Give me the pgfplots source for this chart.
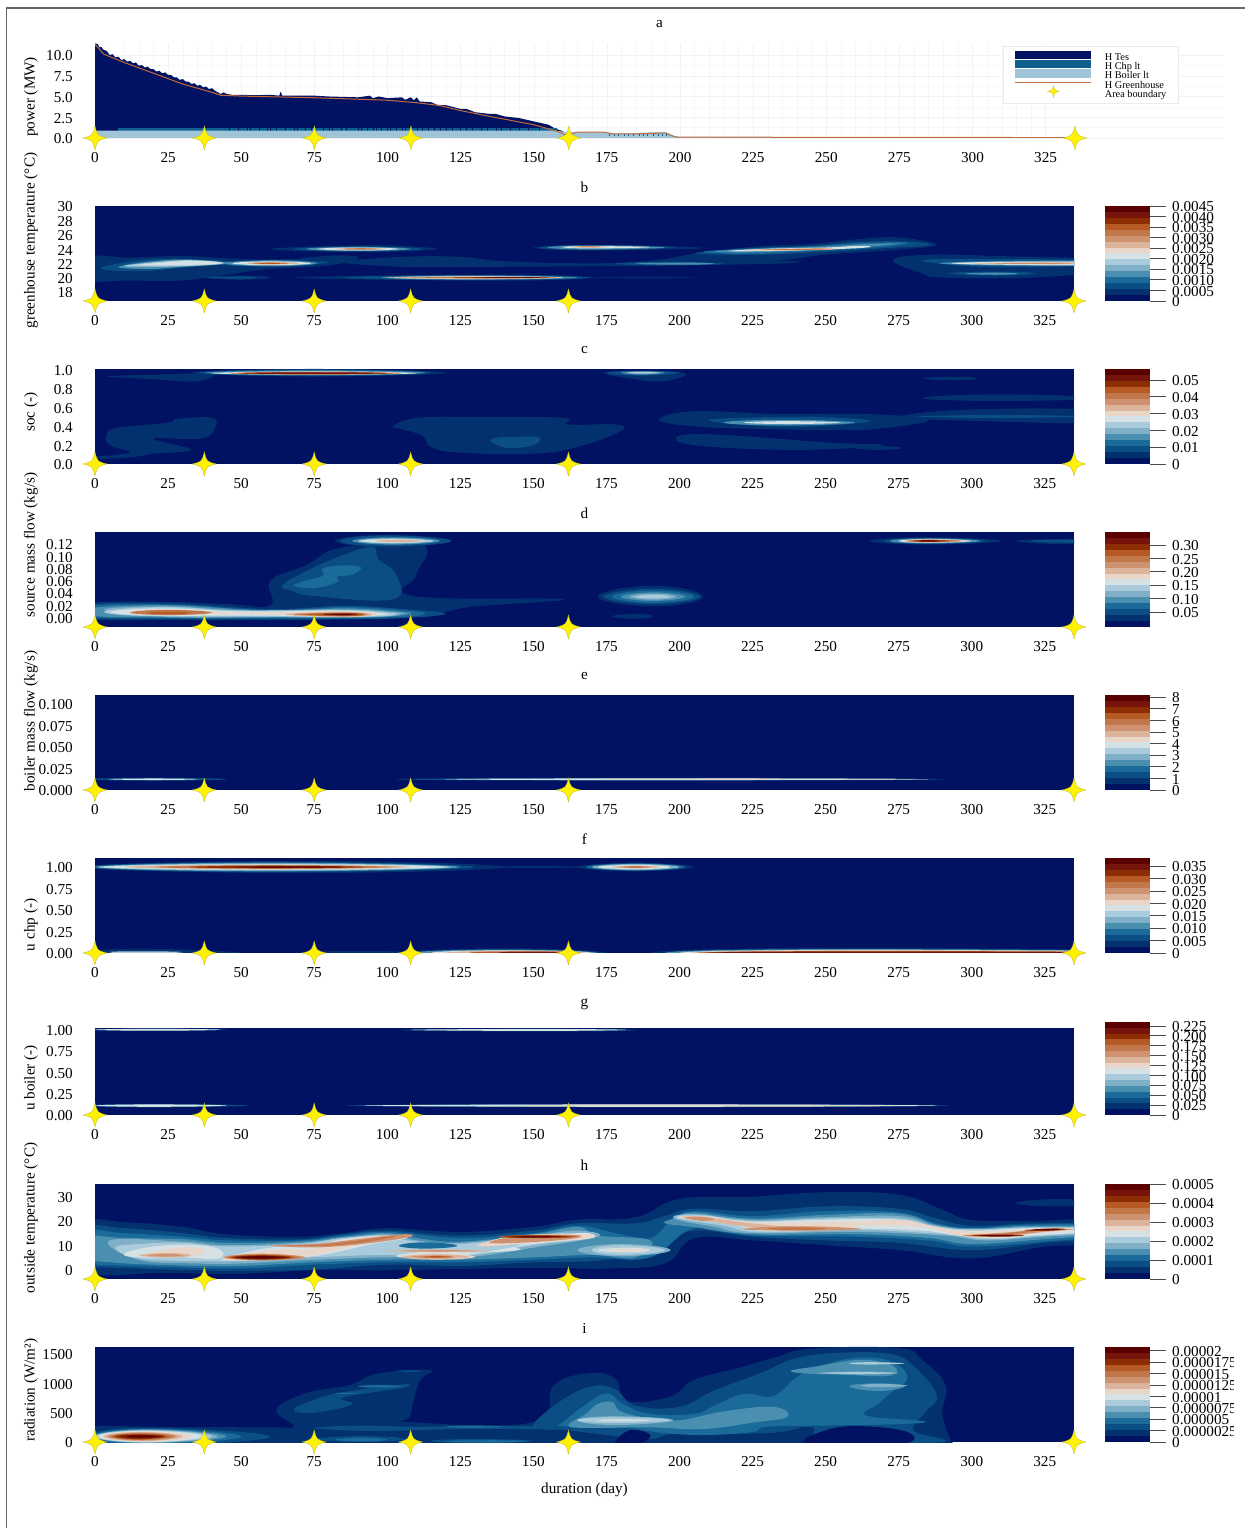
\documentclass[border=0pt]{standalone}
\usepackage{fontspec}
\setmainfont{Liberation Serif}
\usepackage{pgfplots}
\pgfplotsset{compat=1.18}
\definecolor{L1}{HTML}{001261}
\definecolor{L2}{HTML}{03306F}
\definecolor{L3}{HTML}{0B4E86}
\definecolor{L4}{HTML}{1A6A9A}
\definecolor{L5}{HTML}{4A8EB0}
\definecolor{L6}{HTML}{7FB0C8}
\definecolor{L7}{HTML}{A9CBDB}
\definecolor{L8}{HTML}{D5E1E4}
\definecolor{L9}{HTML}{EAD6C9}
\definecolor{L10}{HTML}{DCB49B}
\definecolor{L11}{HTML}{CF9271}
\definecolor{L12}{HTML}{C2774B}
\definecolor{L13}{HTML}{B55A25}
\definecolor{L14}{HTML}{8C2D04}
\definecolor{L15}{HTML}{74140A}
\definecolor{L16}{HTML}{5B0000}
\definecolor{gh}{HTML}{C46A3C}
\definecolor{chp}{HTML}{10608F}
\definecolor{boil}{HTML}{A0C4D8}
\newcommand\blob[2]{\addplot[draw=none,fill=L#1,smooth cycle,tension=0.7,forget plot] coordinates {#2};}
\newcommand\lens[7]{\addplot[draw=none,fill=L#1,smooth cycle,tension=0.85,forget plot] coordinates {(#2,#5)(#3,#6)(#4,#5)(#3,#7)};}
\newcommand\band[2]{\addplot[fill=L#1,draw=none,forget plot] coordinates {(0,#2)(1,#2)(1,#1)(0,#1)} --cycle;}
\newcommand\allbands{\band{1}{0}\band{2}{1}\band{3}{2}\band{4}{3}\band{5}{4}\band{6}{5}\band{7}{6}\band{8}{7}\band{9}{8}\band{10}{9}\band{11}{10}\band{12}{11}\band{13}{12}\band{14}{13}\band{15}{14}\band{16}{15}}
\pgfdeclareplotmark{fourstar}{%
  \pgfpathmoveto{\pgfpoint{0pt}{\pgfplotmarksize}}%
  \pgfpathcurveto{\pgfpoint{0.2\pgfplotmarksize}{0.2\pgfplotmarksize}}{\pgfpoint{0.2\pgfplotmarksize}{0.2\pgfplotmarksize}}{\pgfpoint{\pgfplotmarksize}{0pt}}%
  \pgfpathcurveto{\pgfpoint{0.2\pgfplotmarksize}{-0.2\pgfplotmarksize}}{\pgfpoint{0.2\pgfplotmarksize}{-0.2\pgfplotmarksize}}{\pgfpoint{0pt}{-\pgfplotmarksize}}%
  \pgfpathcurveto{\pgfpoint{-0.2\pgfplotmarksize}{-0.2\pgfplotmarksize}}{\pgfpoint{-0.2\pgfplotmarksize}{-0.2\pgfplotmarksize}}{\pgfpoint{-\pgfplotmarksize}{0pt}}%
  \pgfpathcurveto{\pgfpoint{-0.2\pgfplotmarksize}{0.2\pgfplotmarksize}}{\pgfpoint{-0.2\pgfplotmarksize}{0.2\pgfplotmarksize}}{\pgfpoint{0pt}{\pgfplotmarksize}}%
  \pgfpathclose\pgfusepathqfillstroke}
\newcommand\stars[1]{\addplot[only marks,mark=fourstar,mark size=12pt,mark options={fill=yellow,draw=yellow!70!black,line width=.3pt},forget plot] coordinates {(0,#1)(37.4,#1)(75,#1)(108,#1)(162,#1)(335,#1)};}
\newcommand\fs{\fontsize{15.2}{15.2}\selectfont}
\pgfplotsset{
 base/.style={scale only axis,anchor=south west,width=979pt,height=95pt,xmin=0,xmax=335,
  xtick={0,25,...,325},xticklabels={0,25,50,75,100,125,150,175,200,225,250,275,300,325},
  tick style={draw=none},major tick length=0pt,clip mode=individual,
  axis line style={draw=none},
  tick label style={font=\fs,inner sep=0pt},
  xticklabel style={anchor=center,yshift=-20pt},
  yticklabel style={anchor=east,xshift=-22pt,yshift=-1pt},
  title style={font=\fs,at={(0.5,1)},anchor=center,yshift=13pt},
  every axis y label/.style={font=\fs,rotate=90,anchor=center},
  every axis x label/.style={font=\fs,anchor=center,at={(axis description cs:0.5,-0.505)}}},
 hm/.style={base,axis background/.style={fill=L1}},
 cb/.style={scale only axis,anchor=south west,width=45.5pt,height=95pt,xmin=0,xmax=1,ymin=0,ymax=16,
  xtick=\empty,axis line style={draw=none},ytick pos=right,tick align=outside,
  major tick length=16pt,tick style={draw=black!70,line width=.8pt},
  tick label style={font=\fs,inner sep=0pt},
  yticklabel style={anchor=west,xshift=6pt,yshift=-.7pt}}
}
\begin{document}
\begin{tikzpicture}
\useasboundingbox (0pt,0pt) rectangle (1245pt,1528pt);
\draw[black!60,line width=1.2pt] (6.5pt,0pt) -- (6.5pt,1520pt) -- (1245pt,1520pt);
%%%% a
\begin{axis}[base,at={(95pt,1390pt)},width=1129pt,xmin=0,xmax=386,ymin=0,ymax=11.45,
 ytick={0,2.5,5,7.5,10},yticklabels={0.0,2.5,5.0,7.5,10.0},
 title={a},ylabel={power (MW)},ylabel style={at={(axis description cs:-0.0567,0.432)}},
 grid=both,minor x tick num=4,minor y tick num=1,
 major grid style={draw=black!5,line width=.4pt},minor grid style={draw=black!3,line width=.4pt},
 legend style={at={(axis description cs:0.804,0.968)},anchor=north west,draw=black!8,line width=.6pt,
   font=\fontsize{10.3}{10.3}\selectfont,inner xsep=12pt,inner ysep=4pt,row sep=-3.1pt,
   nodes={inner sep=0pt,text height=7.5pt,text depth=2pt}},
 legend cell align=left]
\addlegendimage{legend image code/.code={\path[draw=none] (0pt,-2pt) rectangle (76pt,7.5pt);\fill[L1,draw=none] (0pt,-1.5pt) rectangle (76pt,7pt);}}
\addlegendentry{\hspace{13pt}H Tes}
\addlegendimage{legend image code/.code={\path[draw=none] (0pt,-2pt) rectangle (76pt,7.5pt);\fill[chp,draw=none] (0pt,-1.5pt) rectangle (76pt,7pt);}}
\addlegendentry{\hspace{13pt}H Chp lt}
\addlegendimage{legend image code/.code={\path[draw=none] (0pt,-2pt) rectangle (76pt,7.5pt);\fill[boil,draw=none] (0pt,-1.5pt) rectangle (76pt,7pt);}}
\addlegendentry{\hspace{13pt}H Boiler lt}
\addlegendimage{legend image code/.code={\path[draw=none] (0pt,-2pt) rectangle (76pt,7.5pt);\draw[gh,line width=.8pt] (0pt,3pt) -- (76pt,3pt);}}
\addlegendentry{\hspace{13pt}H Greenhouse}
\addlegendimage{legend image code/.code={\path[draw=none] (0pt,-2pt) rectangle (76pt,7.5pt);\draw[overlay,fill=yellow,draw=yellow!70!black,line width=.2pt] (38pt,9pt) .. controls (39.2pt,4.2pt) .. (44pt,3pt) .. controls (39.2pt,1.8pt) .. (38pt,-3pt) .. controls (36.8pt,1.8pt) .. (32pt,3pt) .. controls (36.8pt,4.2pt) .. cycle;}}
\addlegendentry{\hspace{13pt}Area boundary\hspace{9pt}}
\addplot[fill=L1,draw=none,forget plot] coordinates {(0,0)(0,11.4)(1,11.3)(1.5,10.9)(2,11)(3,10.6)(4,10.5)(5,10)(6,10.1)(7,9.7)(8,9.8)(9,9.4)(10,9.5)(11,9.2)(12,9.3)(13,9)(14,9.1)(15,8.7)(16,8.8)(17,8.5)(18,8.6)(19,8.3)(20,8.3)(21,8)(22,8.1)(23,7.8)(24,7.9)(25,7.6)(26,7.6)(27,7.3)(28,7.3)(29,7)(30,7.1)(31,6.8)(32,6.8)(33,6.5)(34,6.6)(35,6.3)(36,6.4)(37,6.1)(38,6.2)(39,5.9)(40,6)(41,5.7)(42,5.5)(43,5.3)(44,5.5)(45,5.3)(47,5.2)(50,5.2)(55,5.15)(60,5.2)(63,5.1)(63.5,5.6)(64,5.1)(70,5.1)(75,5.1)(80,5)(85,4.95)(90,4.9)(94,5.1)(95,4.8)(97,5)(100,4.8)(105,4.9)(106,4.6)(108,4.9)(109,4.55)(110,4.9)(111,4.4)(115,4.3)(117,4)(120,3.95)(125,3.5)(127,3.5)(130,3.1)(135,2.9)(137,2.9)(140,2.6)(145,2.4)(150,2)(155,1.6)(157,1.2)(160,.8)(161,.35)(161,0)} --cycle;
\addplot[fill=chp,draw=none,forget plot] coordinates {(8,0)(8,1.25)(158,1.25)(158,0)} --cycle;
\addplot[ycomb,L1,line width=.35pt,forget plot] coordinates {(46,1.3)(49,1.3)(52,1.3)(53,1.3)(56,1.3)(59,1.3)(60,1.3)(62,1.3)(65,1.3)(68,1.3)(69,1.3)(72,1.3)(74,1.3)(78,1.3)(80,1.3)(81,1.3)(84,1.3)(86,1.3)(90,1.3)(91,1.3)(93,1.3)(95,1.3)(96,1.3)(98,1.3)(100,1.3)(101,1.3)(103,1.3)(105,1.3)(106,1.3)(110,1.3)(112,1.3)(114,1.3)(116,1.3)(118,1.3)(120,1.3)(122,1.3)(125,1.3)(127,1.3)(129,1.3)(132,1.3)(134,1.3)(137,1.3)(139,1.3)(142,1.3)(145,1.3)(148,1.3)(152,1.3)};
\addplot[fill=boil,draw=none,forget plot] coordinates {(0,0)(0,.88)(158,.88)(160,.75)(174,.75)(178,.5)(195,.75)(198,.25)(200,.12)(335,.1)(335,0)} --cycle;
\addplot[ycomb,chp,line width=1pt,forget plot] coordinates {(176,.45)(177.5,.45)(179,.45)(181,.42)(182.5,.42)(184,.42)(186,.45)(187.5,.45)(189,.42)(191,.45)(192.5,.45)(194,.45)(195.5,.5)};
\addplot[fill=boil,draw=none,forget plot] coordinates {(160,0)(160,.2)(197,.2)(197,0)} --cycle;
\addplot[gh,line width=1pt,forget plot] coordinates {(0,11.3)(3,10.1)(10,9.1)(20,7.8)(30,6.5)(40,5.5)(43,5.15)(50,5.05)(75,4.85)(100,4.55)(110,4.25)(118,3.9)(125,3.3)(135,2.6)(150,1.6)(158,.8)(161,.35)(165,.7)(174,.7)(177,.5)(185,.5)(195,.6)(197,.3)(199,.1)(335,.05)};
\stars{0}
\end{axis}
%%%% b
\begin{axis}[hm,at={(95pt,1227pt)},ymin=16.74,ymax=30,ytick={18,20,...,30},yticklabels={18,20,22,24,26,28,30},
 title={b},ylabel={greenhouse temperature (°C)},ylabel style={at={(axis description cs:-0.0654,0.635)}}]
\blob{2}{(-5,22.9)(12,22.8)(30,23)(50,22.6)(65,22.5)(75,22.9)(85,23.1)(90,22.7)(80,21.7)(60,21.2)(45,20.4)(30,19.6)(12,19.6)(-5,19.7)}
\blob{2}{(60,24)(80,24.4)(100,24.5)(117,24)(100,23.6)(80,23.6)}
\blob{2}{(85,22.2)(105,22.9)(125,22.9)(140,22.3)(170,22)(210,22.3)(240,22.3)(228,21.9)(170,21.6)(120,21.5)(100,21.6)}
\blob{2}{(205,23.3)(225,24.3)(245,24.7)(262,25.4)(275,25.6)(288,24.6)(275,23.9)(250,23.2)(237,22.5)(220,22)(205,21.8)(180,21.9)(195,22.6)}
\blob{2}{(68,20)(100,20.3)(150,20.4)(168,20)(150,19.6)(100,19.7)}
\lens{2}{38}{50}{60}{20}{20.3}{19.7}
\lens{2}{170}{190}{205}{20}{20.1}{19.9}
\blob{2}{(150,24.2)(170,24.5)(195,24.4)(208,24.1)(190,23.9)(165,23.8)}
\blob{2}{(273,22.4)(285,23.2)(310,23)(345,22.5)(345,21)(320,20)(290,20)(283,20.6)}
\blob{3}{(2,21.3)(15,22.4)(30,22.6)(48,22.1)(30,21.4)(15,20.9)}
\blob{3}{(42,21.8)(60,22.5)(75,22.3)(80,22.1)(65,21.6)}
\lens{3}{68}{90}{112}{24}{24.35}{23.65}
\lens{3}{85}{130}{170}{20}{20.35}{19.65}
\lens{3}{152}{170}{198}{24.2}{24.55}{23.85}
\lens{3}{178}{195}{215}{21.95}{22.2}{21.7}
\lens{3}{38}{50}{55}{20}{20.15}{19.85}
\blob{3}{(205,23.4)(225,24)(245,24.4)(262,25)(280,25)(285,24.5)(270,24.1)(250,23.6)(225,23.2)}
\blob{3}{(283,22.4)(300,22.6)(345,22.4)(345,21.7)(310,21.5)(295,21.7)}
\lens{3}{292}{308}{322}{20.6}{20.85}{20.3}
\blob{4}{(208,23.6)(225,24.1)(245,24.4)(262,24.8)(278,24.9)(270,24.3)(245,23.7)(225,23.3)}
\blob{5}{(8,21.5)(20,22.3)(33,22.5)(45,22)(30,21.5)(18,21.2)}
\lens{5}{44}{60}{76}{22}{22.4}{21.6}
\lens{5}{72}{90}{108}{24}{24.28}{23.72}
\lens{5}{98}{130}{165}{20}{20.28}{19.72}
\lens{5}{155}{170}{195}{24.2}{24.47}{23.95}
\lens{5}{185}{200}{212}{21.95}{22.1}{21.8}
\blob{5}{(212,23.65)(230,24.08)(248,24.3)(265,24.7)(275,24.75)(262,24.25)(245,23.85)(225,23.55)}
\blob{5}{(289,22)(310,22.3)(345,22.3)(345,21.7)(310,21.7)}
\lens{5}{298}{308}{316}{20.55}{20.7}{20.4}
\blob{7}{(10,21.6)(25,22.3)(35,22.4)(44,22)(30,21.6)}
\blob{8}{(15,21.75)(28,22.25)(37,22.3)(43,22)(30,21.75)}
\lens{8}{47}{60}{74}{22}{22.27}{21.73}
\lens{8}{76}{90}{104}{24}{24.2}{23.8}
\lens{8}{103}{130}{160}{20}{20.2}{19.8}
\lens{8}{160}{170}{190}{24.25}{24.4}{24.08}
\blob{8}{(217,23.75)(232,24.05)(250,24.2)(262,24.45)(264,24.2)(245,23.85)(225,23.68)}
\blob{8}{(293,22)(310,22.2)(345,22.2)(345,21.8)(310,21.8)}
\lens{10}{52}{60}{70}{22}{22.18}{21.82}
\lens{10}{82}{90}{100}{24}{24.13}{23.87}
\lens{10}{100}{130}{160}{20}{20.15}{19.85}
\lens{10}{163}{169}{176}{24.3}{24.4}{24.18}
\blob{10}{(222,23.85)(235,24.03)(250,24.1)(252,23.92)(235,23.8)}
\blob{10}{(300,22)(318,22.1)(338,22.1)(338,21.9)(318,21.88)}
\lens{12}{108}{135}{158}{20}{20.1}{19.9}
\blob{12}{(228,23.9)(245,24.03)(252,23.98)(240,23.85)}
\lens{12}{308}{320}{334}{22}{22.05}{21.95}
\lens{12}{165}{169}{173}{24.3}{24.36}{24.24}
\lens{13}{54}{60}{66}{22}{22.08}{21.92}
\lens{13}{85}{91}{97}{24}{24.07}{23.93}
\lens{14}{122}{140}{156}{20}{20.07}{19.93}
\lens{16}{132}{144}{153}{20}{20.04}{19.96}
\stars{16.74}
\end{axis}
\begin{axis}[cb,at={(1104.5pt,1227pt)},ytick={0,1.7778,3.5556,5.3333,7.1111,8.8889,10.6667,12.4444,14.2222,16},
 yticklabels={0,0.0005,0.0010,0.0015,0.0020,0.0025,0.0030,0.0035,0.0040,0.0045}]
\allbands
\end{axis}
%%%% c
\begin{axis}[hm,at={(95pt,1064pt)},ymin=0,ymax=1.01,ytick={0,.2,.4,.6,.8,1},yticklabels={0.0,0.2,0.4,0.6,0.8,1.0},
 title={c},ylabel={soc (-)},ylabel style={at={(axis description cs:-0.0654,0.547)}}]
\blob{2}{(4,.93)(20,.95)(40,.96)(35,.88)(25,.89)(15,.91)}
\blob{2}{(-3,.07)(8,.1)(12,.13)(5,.2)(4,.3)(7,.38)(25,.44)(28,.48)(40,.49)(41,.38)(36,.27)(20,.27)(33,.15)(20,.11)(12,.07)(-3,.05)}
\blob{2}{(102,.4)(110,.49)(130,.5)(160,.49)(162,.42)(178,.42)(180,.35)(165,.18)(150,.11)(125,.12)(115,.18)(112,.3)(105,.37)}
\lens{2}{33}{75}{120}{.97}{1.01}{.93}
\blob{2}{(174,.97)(190,.99)(202,.96)(195,.88)(185,.9)}
\blob{2}{(193,.47)(205,.56)(235,.53)(265,.53)(285,.47)(270,.38)(255,.36)(230,.37)(205,.4)}
\blob{2}{(200,.3)(215,.31)(250,.23)(270,.2)(240,.15)(205,.2)}
\lens{2}{283}{310}{345}{.7}{.74}{.67}
\blob{2}{(275,.5)(300,.58)(345,.57)(345,.44)(300,.46)}
\lens{2}{283}{295}{302}{.91}{.93}{.89}
\lens{2}{260}{268}{276}{.17}{.19}{.15}
\blob{3}{(136,.27)(145,.29)(152,.28)(150,.2)(142,.17)(137,.21)}
\lens{3}{35}{75}{115}{.97}{1.005}{.935}
\lens{3}{175}{187}{200}{.97}{.99}{.94}
\blob{3}{(210,.47)(235,.5)(255,.49)(265,.45)(245,.4)(225,.41)}
\lens{3}{282}{310}{338}{.505}{.52}{.49}
\lens{5}{38}{75}{113}{.97}{.995}{.945}
\lens{5}{180}{187}{195}{.97}{.985}{.95}
\lens{5}{215}{235}{260}{.44}{.47}{.41}
\lens{7}{182}{187}{193}{.97}{.98}{.96}
\lens{8}{40}{75}{110}{.965}{.985}{.95}
\lens{8}{222}{237}{255}{.44}{.455}{.425}
\lens{12}{46}{75}{105}{.965}{.98}{.95}
\lens{15}{50}{75}{100}{.965}{.975}{.955}
\stars{0}
\end{axis}
\begin{axis}[cb,at={(1104.5pt,1064pt)},ytick={0,2.829,5.658,8.487,11.316,14.145},yticklabels={0,0.01,0.02,0.03,0.04,0.05}]
\allbands
\end{axis}
%%%% d
\begin{axis}[hm,at={(95pt,901pt)},ymin=-0.0155,ymax=0.1396,ytick={0,.02,.04,.06,.08,.1,.12},yticklabels={0.00,0.02,0.04,0.06,0.08,0.10,0.12},
 title={d},ylabel={source mass flow (kg/s)},ylabel style={at={(axis description cs:-0.0654,0.863)}}]
\blob{2}{(-5,.022)(20,.026)(45,.022)(60,.02)(60,.06)(72,.085)(85,.115)(112,.118)(110,.07)(109,.035)(160,.03)(130,.018)(118,.008)(100,0)(70,-.004)(30,-.004)(-5,-.002)}
\lens{2}{82}{100}{122}{.125}{.135}{.115}
\lens{2}{172}{191}{208}{.034}{.052}{.018}
\lens{2}{177}{185}{191}{.002}{.006}{-.002}
\lens{2}{265}{285}{310}{.125}{.131}{.119}
\lens{2}{315}{330}{345}{.125}{.128}{.12}
\blob{3}{(64,.052)(72,.075)(85,.102)(95,.115)(97,.095)(103,.07)(102,.03)(75,.035)(68,.043)}
\blob{3}{(-5,.02)(25,.023)(60,.014)(85,.019)(105,.014)(120,.006)(100,-.002)(60,-.003)(25,-.003)(-5,0)}
\lens{3}{84}{100}{122}{.125}{.134}{.116}
\lens{3}{174}{191}{207}{.034}{.047}{.022}
\lens{3}{270}{285}{305}{.125}{.13}{.12}
\lens{3}{320}{332}{345}{.125}{.127}{.122}
\blob{4}{(68,.052)(72,.06)(78,.068)(78,.08)(85,.085)(91,.082)(88,.07)(83,.067)(83,.058)(75,.048)}
\blob{4}{(-5,.018)(25,.021)(60,.012)(85,.017)(105,.012)(113,.006)(100,0)(60,-.0015)(25,-.001)(-5,.002)}
\lens{4}{177}{191}{205}{.034}{.044}{.024}
\blob{5}{(-2,.015)(25,.02)(60,.011)(85,.015)(103,.01)(108,.006)(95,.0005)(60,0)(25,0)(-2,.003)}
\lens{5}{88}{102}{118}{.125}{.131}{.119}
\lens{5}{180}{191}{202}{.034}{.041}{.027}
\lens{5}{272}{285}{303}{.125}{.129}{.121}
\blob{6}{(3,.013)(25,.018)(50,.012)(85,.013)(102,.009)(105,.006)(95,.001)(60,.001)(25,.001)}
\lens{6}{183}{191}{199}{.034}{.039}{.029}
\blob{7}{(5,.012)(25,.017)(50,.011)(85,.012)(100,.008)(103,.005)(95,.002)(60,.002)(25,.002)(7,.005)}
\lens{7}{90}{102}{116}{.125}{.129}{.121}
\lens{7}{185}{191}{197}{.034}{.037}{.031}
\blob{8}{(7,.011)(25,.015)(50,.01)(85,.011)(98,.007)(100,.005)(85,.0005)(60,.003)(25,.003)(9,.006)}
\lens{8}{91}{102}{113}{.125}{.128}{.122}
\lens{8}{275}{285}{300}{.125}{.128}{.122}
\blob{9}{(12,.01)(25,.013)(43,.009)(60,.008)(82,.01)(97,.006)(85,.001)(60,.005)(40,.006)(25,.004)}
\blob{10}{(15,.01)(25,.012)(38,.008)(35,.006)(25,.004)(17,.007)}
\lens{10}{65}{85}{95}{.005}{.009}{.001}
\lens{10}{96}{104}{112}{.125}{.127}{.123}
\lens{10}{277}{285}{298}{.125}{.1275}{.1225}
\lens{12}{12}{25}{40}{.008}{.0125}{.004}
\lens{12}{68}{85}{93}{.005}{.008}{.002}
\lens{12}{278}{285}{296}{.125}{.127}{.123}
\lens{13}{18}{25}{33}{.0075}{.0095}{.0055}
\lens{13}{72}{85}{92}{.005}{.0075}{.0025}
\lens{14}{280}{285}{292}{.125}{.1265}{.1235}
\lens{15}{78}{85}{90}{.005}{.0065}{.0035}
\lens{16}{81}{85}{88}{.005}{.0058}{.0042}
\lens{16}{282}{285}{289}{.125}{.126}{.124}
\stars{-0.0155}
\end{axis}
\begin{axis}[cb,at={(1104.5pt,901pt)},ytick={2.526,4.783,7.04,9.297,11.554,13.811},yticklabels={0.05,0.10,0.15,0.20,0.25,0.30}]
\allbands
\end{axis}
%%%% e
\begin{axis}[hm,at={(95pt,738pt)},ymin=0,ymax=.1105,ytick={0,.025,.05,.075,.1},yticklabels={0.000,0.025,0.050,0.075,0.100},
 title={e},ylabel={boiler mass flow (kg/s)},ylabel style={at={(axis description cs:-0.0654,0.725)}}]
\lens{3}{-3}{20}{45}{.0125}{.0142}{.0108}
\lens{3}{103}{190}{290}{.0125}{.0142}{.0108}
\lens{8}{5}{20}{35}{.0125}{.0134}{.0116}
\lens{8}{120}{190}{280}{.0125}{.0135}{.0115}
\lens{9}{165}{220}{285}{.0125}{.0131}{.0119}
\stars{0}
\end{axis}
\begin{axis}[cb,at={(1104.5pt,738pt)},ytick={0,1.954,3.908,5.862,7.816,9.77,11.724,13.678,15.632},yticklabels={0,1,2,3,4,5,6,7,8}]
\allbands
\end{axis}
%%%% f
\begin{axis}[hm,at={(95pt,575pt)},ymin=0,ymax=1.105,ytick={0,.25,.5,.75,1},yticklabels={0.00,0.25,0.50,0.75,1.00},
 title={f},ylabel={u chp (-)},ylabel style={at={(axis description cs:-0.0654,0.295)}}]
\lens{2}{-5}{70}{140}{1}{1.07}{.93}
\lens{2}{130}{150}{170}{1}{1.01}{.99}
\lens{2}{165}{185}{205}{1}{1.05}{.95}
\lens{2}{-5}{15}{50}{0}{.05}{-.02}
\lens{2}{70}{90}{112}{0}{.025}{-.02}
\lens{2}{105}{140}{175}{0}{.055}{-.05}
\lens{2}{190}{260}{400}{0}{.06}{-.05}
\lens{3}{-3}{60}{130}{1}{1.06}{.94}
\lens{4}{168}{185}{202}{1}{1.042}{.958}
\lens{5}{0}{60}{125}{1}{1.05}{.95}
\lens{5}{108}{140}{172}{0}{.04}{-.05}
\lens{5}{195}{260}{390}{0}{.045}{-.05}
\lens{6}{170}{185}{200}{1}{1.035}{.965}
\lens{7}{1}{60}{122}{1}{1.04}{.96}
\lens{7}{5}{15}{30}{.01}{.02}{-.01}
\lens{8}{3}{60}{118}{1}{1.03}{.97}
\lens{8}{172}{185}{197}{1}{1.025}{.975}
\lens{8}{115}{140}{170}{0}{.03}{-.05}
\lens{8}{200}{265}{375}{0}{.035}{-.05}
\lens{10}{10}{60}{108}{1}{1.025}{.975}
\lens{10}{177}{185}{193}{1}{1.015}{.985}
\lens{10}{120}{142}{168}{0}{.025}{-.05}
\lens{10}{204}{268}{370}{0}{.03}{-.05}
\lens{12}{20}{60}{102}{1}{1.02}{.98}
\lens{12}{180}{185}{190}{1}{1.01}{.99}
\lens{13}{128}{148}{166}{0}{.018}{-.05}
\lens{13}{206}{270}{360}{0}{.022}{-.05}
\lens{14}{32}{60}{92}{1}{1.015}{.985}
\lens{15}{138}{150}{165}{0}{.012}{-.05}
\lens{15}{210}{270}{345}{0}{.015}{-.05}
\lens{16}{48}{65}{85}{1}{1.008}{.992}
\stars{0}
\end{axis}
\begin{axis}[cb,at={(1104.5pt,575pt)},ytick={0,2.088,4.176,6.264,8.352,10.44,12.528,14.616},yticklabels={0,0.005,0.010,0.015,0.020,0.025,0.030,0.035}]
\allbands
\end{axis}
%%%% g
\begin{axis}[hm,at={(95pt,413pt)},height=87pt,ymin=0,ymax=1.02,ytick={0,.25,.5,.75,1},yticklabels={0.00,0.25,0.50,0.75,1.00},
 title={g},title style={yshift=4.5pt},ylabel={u boiler (-)},ylabel style={at={(axis description cs:-0.0654,0.425)}}]
\lens{3}{-3}{20}{52}{.11}{.13}{.09}
\lens{3}{86}{190}{292}{.11}{.13}{.09}
\lens{3}{105}{150}{185}{.995}{1.012}{.98}
\lens{3}{-3}{20}{45}{1.0}{1.012}{.985}
\lens{8}{0}{20}{45}{.11}{.124}{.096}
\lens{8}{92}{190}{288}{.11}{.124}{.096}
\lens{8}{0}{20}{43}{1}{1.01}{.988}
\lens{8}{108}{150}{182}{.998}{1.008}{.986}
\lens{9}{140}{200}{278}{.11}{.12}{.1}
\stars{0}
\end{axis}
\begin{axis}[cb,at={(1104.5pt,413pt)},height=93pt,ytick={0,1.703,3.406,5.109,6.812,8.515,10.218,11.921,13.624,15.327},yticklabels={0,0.025,0.050,0.075,0.100,0.125,0.150,0.175,0.200,0.225}]
\allbands
\end{axis}
%%%% h
\begin{axis}[hm,at={(95pt,249pt)},ymin=-3.9,ymax=35.2,ytick={0,10,20,30},yticklabels={0,10,20,30},
 title={h},ylabel={outside temperature (°C)},ylabel style={at={(axis description cs:-0.0654,0.642)}}]
\blob{2}{(-5,19)(10,19.5)(30,17.5)(45,14.5)(70,13.5)(85,15)(100,17)(125,15.5)(150,17.5)(165,20.5)(185,21.5)(200,29)(225,30)(250,31.8)(275,30.8)(290,24.6)(300,20.4)(320,20)(345,20)(345,10.8)(325,9.4)(300,4.6)(275,8)(250,10)(225,12)(205,12.8)(195,2.5)(175,.4)(150,.7)(100,-.3)(75,-.3)(50,-1.7)(25,-1.4)(-5,-.5)}
\lens{2}{315}{330}{345}{27.3}{29}{26}
\blob{3}{(-5,17)(10,17)(30,15)(45,13)(70,12.5)(85,14.5)(100,16)(125,14)(150,16)(165,19)(185,19)(195,22)(205,25)(225,24)(250,26)(275,25)(288,21)(300,18)(320,19)(345,18.5)(345,13)(325,11)(300,8)(275,11)(250,12)(225,13.5)(205,16)(195,10)(175,4)(150,3)(125,1.5)(100,2)(75,0)(50,-.5)(25,0)(0,1)(-5,1)}
\blob{4}{(-5,15.5)(10,15)(30,13.5)(45,12)(70,12)(85,14)(100,15.5)(125,13)(150,15)(165,18)(178,15)(190,13)(197,20)(205,24)(225,22)(250,24)(275,23.5)(288,19)(300,17)(320,18.5)(345,18)(345,14)(325,11.5)(300,9.5)(285,12)(260,13.5)(225,14)(205,17)(190,5)(170,5)(150,4)(125,3)(100,3)(75,2)(50,.5)(25,1)(0,2)(-5,2.5)}
\blob{5}{(-5,13.5)(10,13)(30,12.5)(45,11)(70,11.5)(85,13.5)(100,15)(110,13)(125,11.5)(150,14.5)(165,17.5)(172,14)(190,12)(185,5)(170,6)(150,5)(125,4)(100,4)(75,3)(50,1.5)(25,1.8)(5,3)(-5,5)}
\blob{5}{(198,21)(205,23.5)(225,21)(250,22.5)(275,23)(288,18.5)(300,17)(320,18)(345,17.5)(345,14.5)(325,12.5)(300,10.5)(285,13)(260,14.5)(225,14.5)(205,17.5)(195,19)}
\blob{6}{(5,12)(30,11.5)(45,10)(70,11)(85,13)(100,14.5)(110,12)(125,11)(150,14)(165,16)(172,13.5)(150,9)(125,4.8)(100,5)(75,4)(50,2.5)(35,2.5)(15,4)}
\blob{6}{(198,21)(205,22.8)(225,20.5)(250,21.5)(275,22)(288,18)(300,16.5)(320,17.5)(345,17.3)(345,15)(325,13.5)(305,12)(290,14)(260,15.5)(225,15)(212,17.5)}
\lens{6}{165}{180}{197}{8}{10.5}{5.5}
\blob{7}{(7,9)(15,10.5)(30,11)(45,9.5)(70,10.5)(85,13)(100,14)(107,12)(125,10.5)(150,14)(165,15)(170,13)(150,10)(130,6)(120,5)(100,6)(75,5)(50,3.5)(35,3.5)(15,4.5)}
\blob{7}{(199,21.2)(207,22.5)(225,20)(250,21)(275,21)(287,18)(300,16.5)(320,17.3)(345,17)(345,15.5)(325,14)(305,12.5)(295,14)(285,15)(260,16.3)(228,15.3)(215,18)}
\lens{7}{170}{180}{195}{8}{10}{6}
\blob{8}{(10,6.5)(20,9.5)(35,10)(43,8)(42,4.5)(30,5)(15,5)}
\blob{8}{(44,4.5)(60,9)(75,9.8)(85,12.5)(100,14)(107,13)(95,10.5)(80,6.5)(70,5)(50,3.8)}
\blob{8}{(103,5.5)(115,7.5)(130,7)(145,8)(145,10)(165,15)(170,13)(150,10.5)(130,6.5)(118,4.6)}
\blob{8}{(200,21.2)(208,22)(225,19.7)(250,20.5)(275,20.5)(287,17.5)(300,16)(320,17)(345,16.8)(345,15.8)(322,14)(310,12.8)(295,14)(283,16)(260,16.8)(230,15.8)(218,18.5)}
\lens{8}{172}{182}{190}{8}{9}{7}
\lens{4}{104}{113}{124}{9.8}{11.2}{8.6}
\blob{9}{(17,6)(25,8.5)(35,9)(37,7)(30,5.3)(20,5.5)}
\blob{9}{(44,4.5)(60,8)(75,8.5)(85,12)(100,13.8)(105,13)(90,10)(75,6)(65,4.5)(50,3.8)}
\blob{9}{(133,11)(145,14)(165,14.5)(170,13)(150,11)(133,9.5)}
\blob{9}{(201,21.2)(208,22)(225,19.4)(255,19.5)(275,20.4)(286,18)(295,16)(310,15.8)(325,16.8)(335,16.5)(322,15)(308,13.2)(296,14)(283,17.5)(265,18.3)(255,17)(232,16)(222,18.5)}
\lens{9}{175}{182}{190}{8}{8.4}{7.6}
\lens{9}{105}{117}{130}{5.2}{6.6}{4.1}
\lens{10}{15}{25}{33}{5.8}{6.8}{5}
\lens{10}{105}{117}{128}{5.2}{6.3}{4.3}
\lens{10}{100}{118}{135}{7.7}{8.2}{7.2}
\blob{10}{(201,21.3)(207,21.7)(225,19)(240,17.5)(262,16.8)(240,16)(225,17.3)(212,19.5)}
\blob{10}{(297,14)(310,15)(325,16.6)(335,16.5)(325,15.5)(310,13.5)}
\lens{11}{44}{57}{72}{5}{6.5}{3.8}
\blob{11}{(60,10)(75,10.5)(90,12.5)(105,14.5)(108,13.5)(95,11)(80,9.3)(68,9.2)}
\lens{11}{18}{24}{30}{5.8}{6.4}{5.3}
\lens{11}{108}{117}{123}{5.2}{5.8}{4.6}
\lens{11}{105}{118}{130}{7.7}{8}{7.4}
\blob{11}{(135,11)(145,13.8)(163,14.3)(165,13)(150,11.3)}
\blob{11}{(202,21.2)(207,21.8)(212,20.8)(208,20)}
\lens{11}{222}{240}{262}{16.7}{17.8}{16}
\blob{11}{(297,14)(312,15.2)(325,16.6)(335,16.5)(325,15.6)(310,13.7)}
\lens{12}{45}{57}{70}{5}{6.2}{4}
\blob{12}{(65,10)(80,10.5)(95,12.8)(103,13.8)(95,11.8)(80,9.8)}
\lens{12}{230}{240}{250}{16.8}{17.4}{16.2}
\blob{12}{(298,14)(312,15)(325,16.5)(332,16.5)(322,15.8)(310,13.8)}
\lens{13}{46}{57}{68}{5}{6}{4}
\lens{13}{112}{117}{122}{5.2}{5.5}{4.9}
\lens{13}{138}{150}{165}{13.5}{14.2}{12.9}
\lens{14}{47}{57}{67}{5}{5.8}{4.2}
\lens{14}{140}{150}{163}{13.5}{14}{13}
\blob{14}{(300,14)(310,14.4)(318,14)(310,13.5)}
\blob{14}{(318,16.2)(328,16.9)(332,16.5)(325,15.9)}
\lens{15}{48}{57}{66}{5}{5.6}{4.4}
\lens{15}{143}{150}{160}{13.5}{13.9}{13.2}
\lens{16}{50}{57}{63}{5}{5.4}{4.6}
\lens{16}{146}{150}{156}{13.5}{13.7}{13.3}
\lens{16}{303}{309}{315}{14}{14.2}{13.7}
\lens{16}{321}{326}{330}{16.5}{16.7}{16.2}
\stars{-3.9}
\end{axis}
\begin{axis}[cb,at={(1104.5pt,249pt)},ytick={0,3.2,6.4,9.6,12.8,16},yticklabels={0,0.0001,0.0002,0.0003,0.0004,0.0005}]
\allbands
\end{axis}
%%%% i
\begin{axis}[hm,at={(95pt,86pt)},ymin=0,ymax=1619,ytick={0,500,1000,1500},yticklabels={0,500,1000,1500},
 title={i},xlabel={duration (day)},ylabel={radiation (W/m²)},ylabel style={at={(axis description cs:-0.0654,0.547)}}]
\blob{2}{(-8,240)(30,255)(60,250)(68,270)(62,548)(72,830)(87,970)(97,1170)(115,1225)(111,1030)(108,460)(108,340)(150,340)(157,970)(169,1170)(178,1080)(182,700)(197,780)(205,1060)(220,1260)(232,1430)(245,1590)(275,1600)(283,1400)(291,975)(290,465)(293,0)(293,-60)(-8,-60)}
\blob{3}{(75,240)(90,280)(110,260)(130,280)(150,270)(175,300)(210,260)(175,210)(130,220)(100,190)(85,200)}
\blob{3}{(68,550)(75,720)(85,850)(105,980)(105,920)(85,760)(88,640)(75,500)}
\lens{3}{103}{108}{112}{1210}{1222}{1195}
\lens{3}{75}{92}{106}{50}{100}{0}
\lens{3}{115}{130}{150}{20}{50}{-20}
\blob{3}{(150,300)(160,720)(170,950)(178,900)(185,620)(200,600)(212,880)(228,1180)(240,1430)(255,1520)(272,1500)(280,1300)(288,800)(284,500)(280,200)(290,0)(250,-20)(245,250)(230,150)(200,150)(190,50)(175,120)(155,250)}
\lens{3}{-2}{18}{60}{90}{240}{-60}
\blob{1}{(244,-30)(250,200)(262,270)(278,170)(276,-30)}
\blob{1}{(178,-30)(183,200)(190,120)(186,-30)}
\blob{4}{(160,330)(168,640)(175,830)(181,640)(190,480)(205,480)(212,620)(222,820)(232,780)(240,1100)(247,1280)(260,1430)(272,1380)(278,1100)(272,830)(268,650)(264,450)(284,350)(272,300)(250,280)(230,260)(225,170)(210,120)(195,150)(180,250)(160,270)}
\lens{4}{-1}{18}{50}{95}{225}{-40}
\lens{4}{90}{97}{105}{945}{975}{925}
\lens{4}{82}{85}{90}{830}{840}{820}
\lens{4}{120}{128}{140}{260}{280}{240}
\lens{4}{82}{92}{100}{40}{70}{10}
\lens{4}{120}{135}{148}{15}{30}{-10}
\blob{5}{(162,280)(168,480)(172,650)(177,680)(180,520)(190,400)(200,370)(215,520)(232,600)(237,430)(225,330)(208,220)(190,250)(170,240)}
\blob{5}{(238,1210)(247,1290)(262,1400)(273,1300)(272,1130)(255,1150)(245,1160)}
\lens{5}{258}{268}{277}{950}{1000}{870}
\lens{5}{0}{18}{45}{95}{215}{-20}
\lens{6}{165}{178}{198}{370}{440}{290}
\lens{6}{247}{262}{275}{1175}{1200}{1150}
\lens{6}{262}{268}{278}{960}{990}{935}
\lens{6}{0}{18}{42}{95}{205}{-10}
\lens{7}{165}{178}{197}{375}{420}{320}
\lens{7}{250}{262}{273}{1175}{1190}{1160}
\lens{7}{258}{265}{277}{1340}{1360}{1320}
\lens{7}{0}{17}{40}{95}{197}{-5}
\lens{8}{172}{180}{190}{370}{385}{350}
\lens{8}{1}{17}{37}{95}{190}{0}
\lens{9}{2}{17}{33}{95}{180}{5}
\lens{10}{3}{16}{30}{95}{170}{15}
\lens{11}{4}{16}{28}{95}{160}{25}
\lens{12}{5}{16}{27}{95}{150}{35}
\lens{13}{6}{15}{25}{95}{140}{42}
\lens{14}{7}{15}{24}{95}{130}{50}
\lens{15}{9}{15}{23}{95}{120}{65}
\lens{16}{11}{15}{21}{95}{110}{80}
\stars{0}
\end{axis}
\begin{axis}[cb,at={(1104.5pt,86pt)},ytick={0,1.92,3.84,5.76,7.68,9.6,11.52,13.44,15.36},yticklabels={0,0.0000025,0.000005,0.0000075,0.00001,0.0000125,0.000015,0.0000175,0.00002}]
\allbands
\end{axis}
\fill[white] (1234pt,78pt) rectangle (1245pt,190pt);
\end{tikzpicture}
\end{document}
